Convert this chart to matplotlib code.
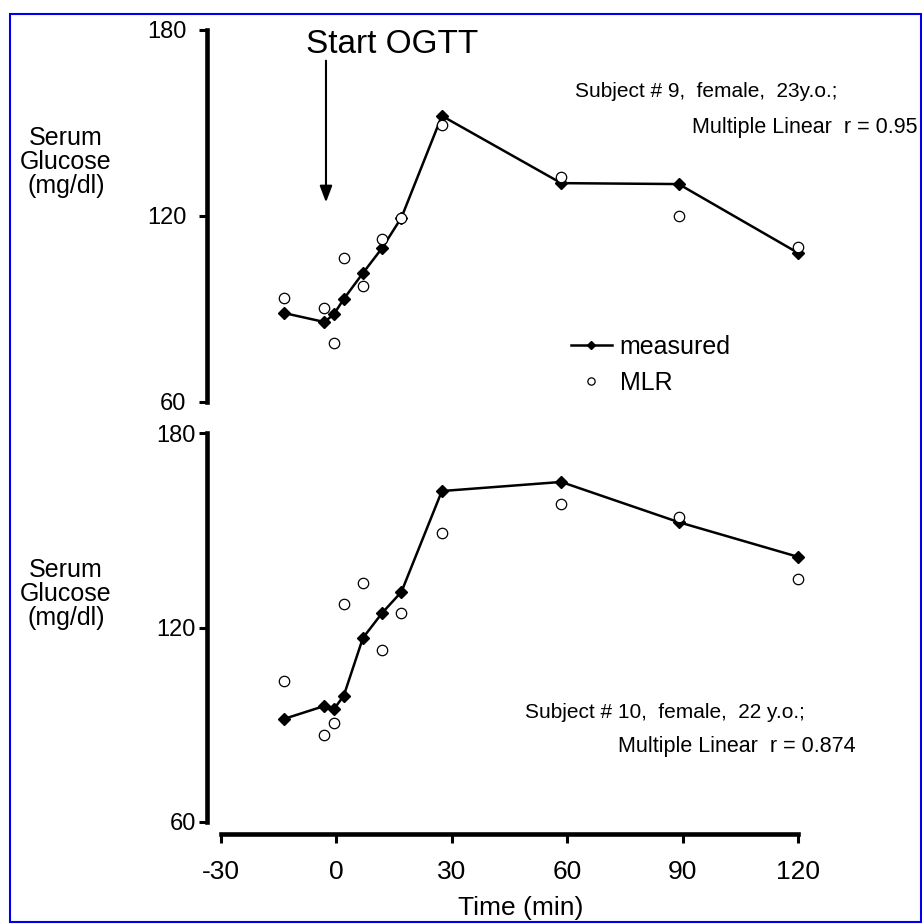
import matplotlib
matplotlib.use("Agg")
import matplotlib.pyplot as plt
from matplotlib.lines import Line2D
from matplotlib.patches import Rectangle

plt.rcParams['font.family'] = ['Liberation Sans', 'DejaVu Sans']

# sampling times (min), shared by both subjects
time = [-13.5, -3, -0.5, 2, 7, 12, 17, 27.5, 58.5, 89, 120]

# subject 9
meas_9 = [88.7, 85.8, 88.4, 93.2, 101.6, 109.7, 119.5, 152.3, 130.6, 130.3, 108.1]
mlr_9 = [93.5, 90.3, 79.0, 106.5, 97.4, 112.6, 119.4, 149.4, 132.6, 120.0, 110.0]

# subject 10
meas_10 = [91.8, 95.8, 94.9, 98.9, 116.8, 124.5, 131.0, 162.1, 164.9, 152.5, 141.8]
mlr_10 = [103.5, 86.8, 90.6, 127.3, 133.7, 113.1, 124.5, 149.2, 158.1, 154.1, 135.0]

xticks = [-30, 0, 30, 60, 90, 120]
yticks = [60, 120, 180]

W, H = 922, 924
fig = plt.figure(figsize=(W / 100, H / 100), dpi=100)

def px(x0, y0, x1, y1):
    # pixel box (top-left origin) -> figure fraction rect
    return [x0 / W, 1 - y1 / H, (x1 - x0) / W, (y1 - y0) / H]

ax1 = fig.add_axes(px(207, 30, 905, 402))
ax2 = fig.add_axes(px(207, 433, 905, 822))

xlim = ((207 - 336) / 3.85, (905 - 336) / 3.85)

for ax, meas, mlr in [(ax1, meas_9, mlr_9), (ax2, meas_10, mlr_10)]:
    ax.plot(time, meas, color='black', lw=1.8, marker='D', ms=6, zorder=3)
    ax.plot(time, mlr, linestyle='none', marker='o', ms=7.5, mfc='white',
            mec='black', mew=0.9, zorder=4)
    ax.set_xlim(*xlim)
    ax.set_ylim(60, 180)
    ax.set_yticks(yticks)
    ax.spines['top'].set_visible(False)
    ax.spines['right'].set_visible(False)
    ax.spines['left'].set_linewidth(3.3)
    ax.spines['left'].set_bounds(60, 180)
    ax.patch.set_visible(False)

ax1.spines['bottom'].set_visible(False)
ax1.set_xticks([])
ax1.tick_params(axis='y', length=6, width=2.2, pad=9, labelsize=17)
ax2.tick_params(axis='y', length=6, width=2.2, pad=2, labelsize=17)

ax2.set_xticks(xticks)
ax2.set_xticklabels([str(t) for t in xticks])
ax2.spines['bottom'].set_position(('outward', 8.6))
ax2.spines['bottom'].set_bounds(-30, 120)
ax2.spines['bottom'].set_linewidth(3.3)
ax2.tick_params(axis='x', length=6.5, width=2.2, pad=12, labelsize=19)

# annotations, top panel
ax1.text(14.5, 172.6, 'Start OGTT', fontsize=24, ha='center', va='baseline')
ax1.annotate('', xy=(-2.6, 123.5), xytext=(-2.6, 171),
             arrowprops=dict(arrowstyle='-|>,head_length=0.45,head_width=0.17',
                             lw=1.5, color='black', mutation_scale=22))
ax1.text(62.1, 158.4, 'Subject # 9,  female,  23y.o.;', fontsize=15,
         ha='left', va='baseline', clip_on=False)
ax1.text(92.5, 146.8, 'Multiple Linear  r = 0.95', fontsize=15.5,
         ha='left', va='baseline', clip_on=False)

# annotations, bottom panel
ax2.text(49.1, 92.1, 'Subject # 10,  female,  22 y.o.;', fontsize=15,
         ha='left', va='baseline')
ax2.text(73.2, 81.6, 'Multiple Linear  r = 0.874', fontsize=15.5,
         ha='left', va='baseline')

# legend
h1 = Line2D([], [], color='black', lw=1.8, marker='D', ms=6)
h2 = Line2D([], [], linestyle='none', marker='o', ms=7.5, mfc='white',
            mec='black', mew=0.9)
ax1.legend([h1, h2], ['measured', 'MLR'], loc='upper left',
           bbox_to_anchor=(558 / W, 1 - 322 / H), bbox_transform=fig.transFigure,
           frameon=False, borderpad=0, handlelength=1.64, handletextpad=0.32,
           labelspacing=0.5, fontsize=18, markerscale=0.7, numpoints=1)

# y labels and x label
for yc in (162, 594):
    fig.text(66 / W, 1 - yc / H, 'Serum\nGlucose\n(mg/dl)', fontsize=18,
             ha='center', va='center', linespacing=1.0)
fig.text(521 / W, 1 - 915 / H, 'Time (min)', fontsize=19, ha='center',
         va='baseline')

# blue frame
fig.add_artist(Rectangle((10 / W, 1 - 922 / H), 911 / W, 908 / H,
                         transform=fig.transFigure, fill=False,
                         ec='#0000ee', lw=1.5, zorder=10))

fig.savefig('out.png', dpi=100)
